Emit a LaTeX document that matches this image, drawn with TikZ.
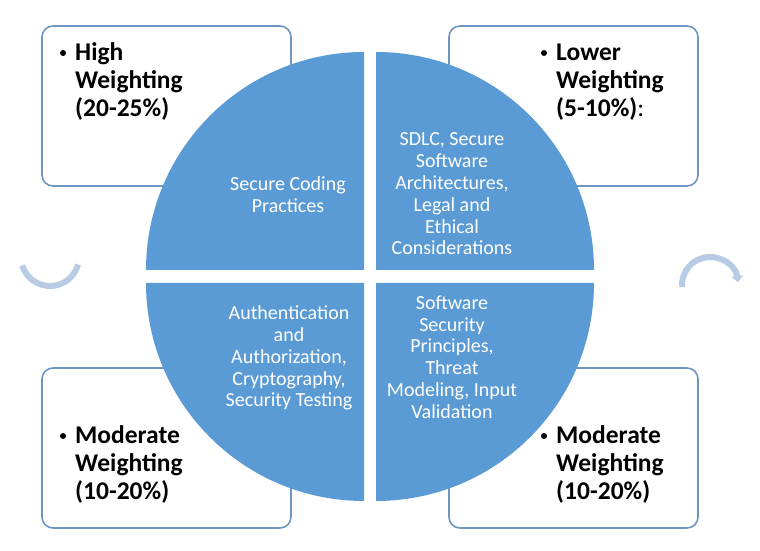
\documentclass[tikz,border=0pt]{standalone}
\usepackage{fontspec}
\setmainfont{Carlito}
\usetikzlibrary{arrows.meta}
\definecolor{quad}{HTML}{5B9BD5}
\definecolor{boxline}{HTML}{6F96C2}
\definecolor{arcblue}{HTML}{B8CBE5}
\tikzset{
  wbox/.style={draw=boxline,line width=1.6pt,fill=white,rounded corners=11pt},
  quadfill/.style={fill=quad},
  qtext/.style={text=white,font=\fontsize{20}{21.8}\selectfont,align=center,inner sep=0pt},
  btext/.style={text=black,font=\bfseries\fontsize{25.5}{28}\selectfont,align=left,inner sep=0pt,anchor=base west},
  bul/.style={circle,fill=black,inner sep=0pt,minimum size=6pt},
  cyc/.style={draw=arcblue,line width=6pt}
}
\begin{document}
\begin{tikzpicture}[x=1pt,y=1pt]
\useasboundingbox (0,0) rectangle (760,551);
% boxes (y-up: Y = 551 - py)
\draw[wbox] (42,365) rectangle (291,525);
\draw[wbox] (449,365) rectangle (698,525);
\draw[wbox] (42,23) rectangle (291,183);
\draw[wbox] (449,23) rectangle (698,183);
% quadrants
\fill[quadfill] (364,281) -- (146,281) arc[start angle=180,end angle=90,radius=218pt] -- cycle;
\fill[quadfill] (376,281) -- (376,499) arc[start angle=90,end angle=0,radius=218pt] -- cycle;
\fill[quadfill] (376,268) -- (594,268) arc[start angle=0,end angle=-90,radius=218pt] -- cycle;
\fill[quadfill] (364,268) -- (364,50) arc[start angle=270,end angle=180,radius=218pt] -- cycle;
% quadrant texts
\node[qtext] (q1) at (288,356) {Secure Coding\\Practices};
\node[qtext] (q2) at (452,357) {SDLC, Secure\\Software\\Architectures,\\Legal and\\Ethical\\Considerations};
\node[qtext] (q3) at (289,193) {Authentication\\and\\Authorization,\\Cryptography,\\Security Testing};
\node[qtext] (q4) at (452,194) {Software\\Security\\Principles,\\Threat\\Modeling, Input\\Validation};
% box texts (anchored at the baseline of the last line)
\node[btext] (t1) at (75,434) {High\\Weighting\\(20-25\%)};
\node[bul] (b1) at (63,498) {};
\node[btext] (t2) at (556,434) {Lower\\Weighting\\(5-10\%)\textmd{:}};
\node[bul] (b2) at (544,498) {};
\node[btext] (t3) at (75,51) {Moderate\\Weighting\\(10-20\%)};
\node[bul] (b3) at (63,115) {};
\node[btext] (t4) at (556,51) {Moderate\\Weighting\\(10-20\%)};
\node[bul] (b4) at (544,115) {};
% cycle arrows
\coordinate (lc) at (50,294);
\coordinate (rc) at (710,266);
\draw[cyc] ([shift={(197:29pt)}]lc) arc[start angle=197,end angle=345,radius=29pt];
\draw[cyc,-{Triangle[width=12pt,length=6pt]}] ([shift={(184:28pt)}]rc) arc[start angle=184,end angle=6,radius=28pt];
\end{tikzpicture}
\end{document}
